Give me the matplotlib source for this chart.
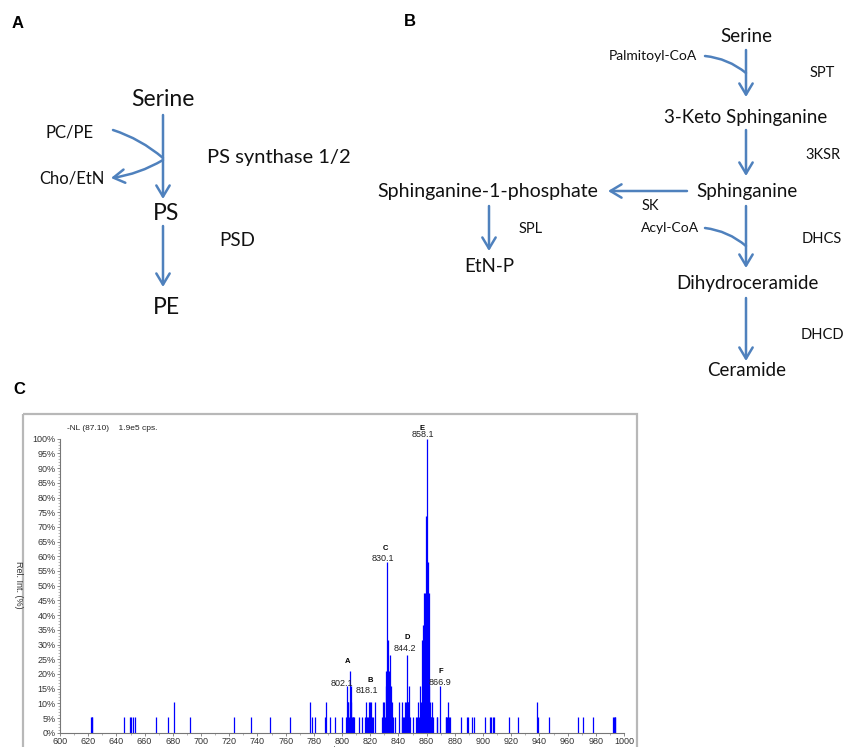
import matplotlib
matplotlib.use('Agg')
import matplotlib.pyplot as plt
from matplotlib.patches import Rectangle
from matplotlib.ticker import MultipleLocator, FuncFormatter

# panel C spectrum (m/z, relative intensity %)
peak_mz = [621.8, 622.4, 623.0, 645.5, 649.5, 650.4, 651.6, 653.5, 668.2, 676.9,
           681.2, 691.9, 723.1, 735.7, 749.2, 762.9, 777.1, 778.8, 781.2, 787.6,
           788.8, 791.4, 794.7, 800.1,
           802.7, 803.2, 803.7, 804.2, 804.6, 805.1, 805.6, 806.1, 806.6, 807.0,
           807.5, 808.0, 808.4, 812.0, 813.9,
           816.2, 816.7, 817.3, 817.8, 818.4, 818.9, 819.4, 819.9, 820.4, 820.9,
           821.4, 821.9, 823.1,
           828.6, 829.3, 829.8, 830.4, 830.9, 831.3, 831.7, 832.1, 832.6, 833.0,
           833.3, 833.7, 834.0, 834.4, 834.7, 835.2, 835.6, 836.0, 837.3,
           840.3, 842.2, 842.7, 843.2, 843.7, 844.4, 845.0, 845.6, 846.1, 846.5,
           846.8, 847.3, 847.8, 848.3, 850.5, 852.5, 853.5,
           854.2, 854.7, 855.3, 855.7, 856.2, 856.7, 857.2, 857.6, 858.2, 858.6,
           859.1, 859.6, 860.0, 860.3, 860.7, 861.0, 861.3, 861.7, 862.0, 862.4,
           862.8, 863.4, 864.0, 864.5,
           867.2, 867.6, 869.3, 873.5, 874.0, 874.6, 875.4, 876.0, 876.6, 884.7,
           888.9, 889.4, 892.5, 893.7, 901.2, 905.0, 905.9, 906.9, 907.8, 918.1,
           924.9, 938.5, 938.9, 946.9, 967.5, 971.1, 978.2, 992.2, 992.8, 993.4,
           993.8]
peak_int = [5.3, 5.3, 5.3, 5.3, 5.3, 5.3, 5.3, 5.3, 5.3, 5.3,
            10.5, 5.3, 5.3, 5.3, 5.3, 5.3, 10.5, 5.3, 5.3, 5.3,
            10.5, 5.3, 5.3, 5.3,
            5.3, 5.3, 15.8, 10.5, 10.5, 5.3, 21.1, 10.5, 15.8, 5.3,
            5.3, 5.3, 5.3, 5.3, 5.3,
            5.3, 10.5, 5.3, 5.3, 5.3, 5.3, 10.5, 10.5, 5.3, 10.5,
            5.3, 5.3, 10.5,
            5.3, 10.5, 10.5, 5.3, 21.1, 15.8, 10.5, 57.9, 31.6, 15.8,
            21.1, 10.5, 26.3, 5.3, 15.8, 5.3, 10.5, 5.3, 5.3,
            10.5, 5.3, 10.5, 5.3, 5.3, 10.5, 5.3, 10.5, 26.3, 10.5,
            10.5, 5.3, 15.8, 5.3, 5.3, 5.3, 5.3,
            10.5, 5.3, 15.8, 5.3, 10.5, 31.6, 36.8, 15.8, 47.4, 47.4,
            31.6, 73.7, 26.3, 100.0, 36.8, 57.9, 21.1, 47.4, 15.8, 10.5,
            5.3, 5.3, 10.5, 5.3,
            5.3, 5.3, 15.8, 5.3, 5.3, 5.3, 10.5, 5.3, 5.3, 5.3,
            5.3, 5.3, 5.3, 5.3, 5.3, 5.3, 5.3, 5.3, 5.3, 5.3,
            5.3, 10.5, 5.3, 5.3, 5.3, 5.3, 5.3, 5.3, 5.3, 5.3,
            5.3]

tag_letters = ['A', 'B', 'C', 'D', 'E', 'F']
tag_values = ['802.1', '818.1', '830.1', '844.2', '858.1', '866.9']
# where the annotations sit on the spectrum
tag_letter_x = [803.7, 819.8, 830.9, 846.1, 856.6, 869.8]
tag_letter_y = [24.1, 17.9, 62.7, 32.4, 103.5, 20.7]
tag_value_x = [800.1, 817.9, 829.0, 844.6, 857.4, 869.5]
tag_value_y = [16.8, 14.3, 59.1, 28.7, 101.3, 17.1]

ARROW = '#4F81BD'
TXT = '#111111'
DFONT = 'Lato'

fig = plt.figure(figsize=(8.46, 7.47), dpi=100)

# --- pathway diagrams, drawn in pixel coordinates ---
ax0 = fig.add_axes([0, 0, 1, 1])
ax0.set_xlim(0, 846)
ax0.set_ylim(747, 0)
ax0.axis('off')


def label(x, y, s, size, ha='center'):
    ax0.text(x, y, s, fontsize=size, ha=ha, va='center', color=TXT, family=DFONT)


def arrow(x1, y1, x2, y2):
    ax0.annotate('', xy=(x2, y2), xytext=(x1, y1),
                 arrowprops=dict(arrowstyle='->,head_length=0.5,head_width=0.3',
                                 color=ARROW, lw=1.8, mutation_scale=16,
                                 shrinkA=0, shrinkB=0))


def curve(x1, y1, x2, y2, rad, head=False):
    style = '->,head_length=0.5,head_width=0.3' if head else '-'
    ax0.annotate('', xy=(x2, y2), xytext=(x1, y1),
                 arrowprops=dict(arrowstyle=style, color=ARROW, lw=1.8,
                                 mutation_scale=16, shrinkA=0, shrinkB=0,
                                 connectionstyle=f'arc3,rad={rad}'))


for s, x, y in [('A', 18, 23), ('B', 410, 21), ('C', 19, 390)]:
    ax0.text(x, y, s, fontsize=12, fontweight='bold', ha='center', va='center',
             family='Liberation Sans')

# panel A
label(163, 99, 'Serine', 16.5)
label(166, 213, 'PS', 16.5)
label(166, 308, 'PE', 16.5)
label(70, 132, 'PC/PE', 12)
label(72, 178, 'Cho/EtN', 12)
label(207, 158, 'PS synthase 1/2', 14.5, ha='left')
label(219, 241, 'PSD', 13.5, ha='left')
arrow(163, 115, 163, 199)
arrow(163, 226, 163, 287)
curve(113, 130, 163, 158, -0.1)
curve(163, 160, 111, 178, -0.1, head=True)

# panel B
label(746, 36, 'Serine', 13.5)
label(653, 56, 'Palmitoyl-CoA', 10)
label(822, 73, 'SPT', 10.5)
label(746, 117, '3-Keto Sphinganine', 13.5)
label(823, 155, '3KSR', 10.5)
label(747, 191, 'Sphinganine', 13.5)
label(488, 191, 'Sphinganine-1-phosphate', 14)
label(650, 206, 'SK', 10.5)
label(531, 229, 'SPL', 10.5)
label(489, 267, 'EtN-P', 13.5)
label(670, 228, 'Acyl-CoA', 10)
label(822, 239, 'DHCS', 10.5)
label(747, 284, 'Dihydroceramide', 13.5)
label(822, 335, 'DHCD', 10.5)
label(747, 370, 'Ceramide', 13.5)
arrow(746, 50, 746, 97)
arrow(746, 130, 746, 176)
arrow(687, 191, 608, 191)
arrow(489, 206, 489, 251)
arrow(746, 206, 746, 268)
arrow(746, 298, 746, 361)
curve(705, 56, 746, 73, -0.15)
curve(705, 228, 746, 246, -0.15)

# outer frame of the spectrum screenshot
ax0.add_patch(Rectangle((23, 414), 614, 400, fill=False, edgecolor='#b8b8b8', lw=1.6))

# --- panel C spectrum ---
ax = fig.add_axes([60 / 846, (747 - 732.7) / 747, 564 / 846, 294 / 747])
ax.set_facecolor('none')
ax.vlines(peak_mz, 0, peak_int, colors='#0000ff', lw=0.9)
ax.set_xlim(600, 1000)
ax.set_ylim(0, 100)
for side in ['top', 'right']:
    ax.spines[side].set_visible(False)
for side in ['left', 'bottom']:
    ax.spines[side].set_color('#777777')
    ax.spines[side].set_linewidth(0.8)
ax.xaxis.set_major_locator(MultipleLocator(20))
ax.xaxis.set_minor_locator(MultipleLocator(10))
ax.yaxis.set_major_locator(MultipleLocator(5))
ax.yaxis.set_minor_locator(MultipleLocator(1))
ax.yaxis.set_major_formatter(FuncFormatter(lambda v, p: f'{v:.0f}%'))
ax.tick_params(which='major', length=2, width=0.6, color='#777777',
               labelsize=6.5, labelcolor='#333333', pad=1)
ax.tick_params(which='minor', length=1.2, width=0.5, color='#999999')
for t in ax.get_xticklabels() + ax.get_yticklabels():
    t.set_family('Liberation Sans')

for i in range(len(tag_letters)):
    ax.text(tag_letter_x[i], tag_letter_y[i], tag_letters[i], fontsize=5.5,
            fontweight='bold', ha='center', va='center', family='Liberation Sans',
            clip_on=False)
    ax.text(tag_value_x[i], tag_value_y[i], tag_values[i], fontsize=6.5,
            ha='center', va='center', family='Liberation Sans', color='#222222',
            clip_on=False)

ax.text(605, 103.6, '-NL (87.10)    1.9e5 cps.', fontsize=6, ha='left', va='center',
        family='Liberation Sans', color='#222222', clip_on=False)
fig.text(18 / 846, 1 - 585 / 747, 'Rel. Int. (%)', rotation=270, fontsize=6.5,
         ha='center', va='center', family='Liberation Sans', color='#333333')
fig.text(340 / 846, 1 - 750 / 747, 'm/z, Da', fontsize=6.5, ha='center', va='center',
         family='Liberation Sans', color='#333333')

fig.savefig('out.png', dpi=100)
